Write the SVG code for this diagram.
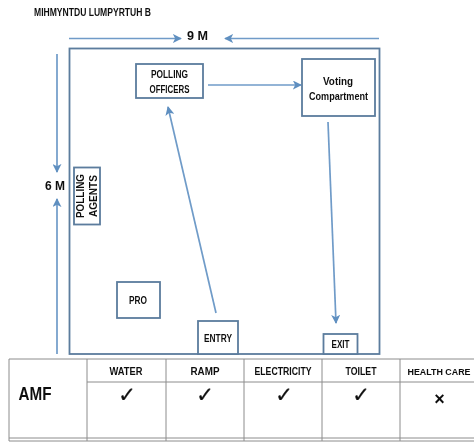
<svg xmlns="http://www.w3.org/2000/svg" width="474" height="442" viewBox="0 0 474 442">
<style>
.t{font-family:"Liberation Sans",Arial,sans-serif;font-weight:700;fill:#111;text-anchor:middle}
.s{font-size:10px}
.box{fill:#fff;stroke:#5b7c9d;stroke-width:1.8}
.c{fill:none;stroke:#6f9bc8;stroke-width:1.7}
.g{stroke:#8c8c8c;stroke-width:1;fill:none}
.m{font-family:"DejaVu Sans",sans-serif;font-size:21px;fill:#111;stroke:#111;stroke-width:.3;text-anchor:middle}
</style>
<defs>
<marker id="a" viewBox="0 0 10 10" refX="9" refY="5" markerWidth="9" markerHeight="9" markerUnits="userSpaceOnUse" orient="auto"><path d="M0 0L10 5L0 10L2.5 5Z" fill="#5f8fc0"/></marker>
<filter id="b" x="-5%" y="-5%" width="110%" height="110%"><feGaussianBlur stdDeviation="0.35"/></filter>
</defs>
<rect width="474" height="442" fill="#fff"/>
<g filter="url(#b)">
<text class="t" x="92.500" y="15.500" font-size="10" textLength="117" lengthAdjust="spacingAndGlyphs">MIHMYNTDU LUMPYRTUH B</text>
<rect id="room" x="69.500" y="48.500" width="310" height="305.500" fill="none" stroke="#5b7c9d" stroke-width="1.8"/>
<g id="connectors">
<path class="c" d="M69 38.500H181" marker-end="url(#a)"/>
<path class="c" d="M379 38.500H225" marker-end="url(#a)"/>
<path class="c" d="M57 54V172" marker-end="url(#a)"/>
<path class="c" d="M57 354V199" marker-end="url(#a)"/>
<path class="c" d="M208 85H301" marker-end="url(#a)"/>
<path class="c" d="M216 313L168 107" marker-end="url(#a)"/>
<path class="c" d="M328 122L336 323" marker-end="url(#a)"/>
</g>
<g id="label-9m"><text class="t" x="197.500" y="40" font-size="13" textLength="21" lengthAdjust="spacingAndGlyphs">9 M</text></g>
<g id="label-6m"><text class="t" x="55" y="190" font-size="13" textLength="20" lengthAdjust="spacingAndGlyphs">6 M</text></g>
<g id="polling-officers"><rect class="box" x="136" y="64" width="67" height="34"/>
<text class="t s" x="169.500" y="77.500" textLength="37" lengthAdjust="spacingAndGlyphs">POLLING</text>
<text class="t s" x="169.500" y="92.500" textLength="40" lengthAdjust="spacingAndGlyphs">OFFICERS</text></g>
<g id="voting-compartment"><rect class="box" x="302" y="59" width="73" height="57"/>
<text class="t s" x="338" y="84.500" textLength="30" lengthAdjust="spacingAndGlyphs">Voting</text>
<text class="t s" x="338.500" y="99.500" textLength="59" lengthAdjust="spacingAndGlyphs">Compartment</text></g>
<g id="polling-agents"><rect class="box" x="74" y="167.500" width="26" height="57"/>
<text class="t s" transform="translate(84 196) rotate(-90)" textLength="44" lengthAdjust="spacingAndGlyphs">POLLING</text>
<text class="t s" transform="translate(97 196) rotate(-90)" textLength="42" lengthAdjust="spacingAndGlyphs">AGENTS</text></g>
<g id="pro"><rect class="box" x="117" y="282" width="43" height="36"/>
<text class="t s" x="138" y="303.500" textLength="18" lengthAdjust="spacingAndGlyphs">PRO</text></g>
<g id="entry"><rect class="box" x="198" y="321" width="40" height="33"/>
<text class="t s" x="218" y="341.500" textLength="28" lengthAdjust="spacingAndGlyphs">ENTRY</text></g>
<g id="exit"><rect class="box" x="323.500" y="334" width="34" height="20"/>
<text class="t s" x="340.500" y="347.500" textLength="18" lengthAdjust="spacingAndGlyphs">EXIT</text></g>
<g id="table">
<path class="g" d="M9 359H474M87 382H474M9 438H474M9 441H474M9 359V441M87 359V441M166 359V441M244 359V441M322 359V441M400 359V441"/>
<text class="t" x="35" y="400" font-size="18" textLength="33" lengthAdjust="spacingAndGlyphs">AMF</text>
<text class="t s" x="126" y="374.500" textLength="33" lengthAdjust="spacingAndGlyphs">WATER</text>
<text class="t s" x="205" y="374.500" textLength="29" lengthAdjust="spacingAndGlyphs">RAMP</text>
<text class="t s" x="283" y="374.500" textLength="57" lengthAdjust="spacingAndGlyphs">ELECTRICITY</text>
<text class="t s" x="361" y="374.500" textLength="31" lengthAdjust="spacingAndGlyphs">TOILET</text>
<text class="t" x="439" y="374.500" font-size="9.300" textLength="63" lengthAdjust="spacingAndGlyphs">HEALTH CARE</text>
<text class="m" x="127" y="402">✓</text>
<text class="m" x="205" y="402">✓</text>
<text class="m" x="284" y="402">✓</text>
<text class="m" x="361" y="402">✓</text>
<text class="t" x="439.500" y="405" font-size="18">×</text>
</g>
</g>
</svg>
